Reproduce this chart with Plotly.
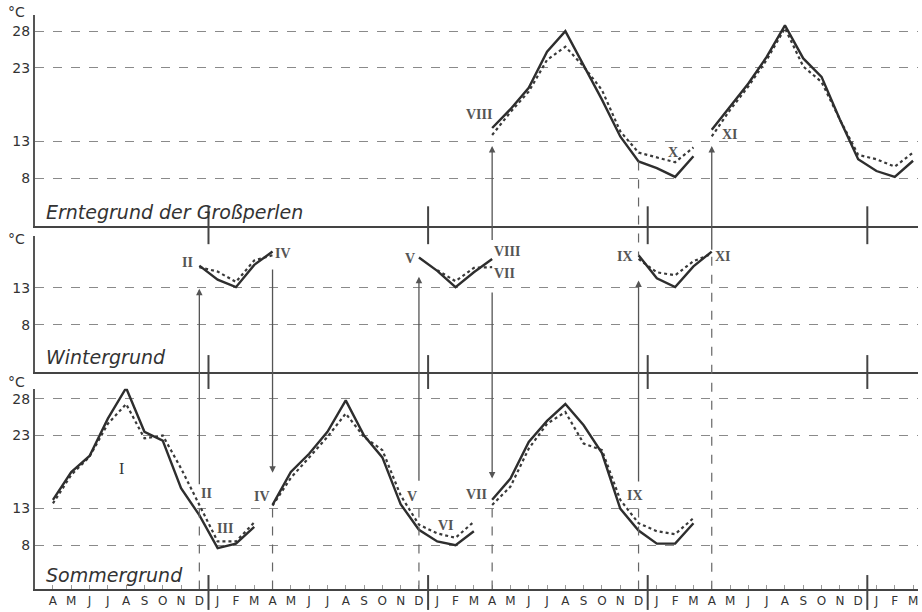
import plotly.graph_objects as go

# ---------------- data ----------------
month_labels = ["A", "M", "J", "J", "A", "S", "O", "N", "D",
                "J", "F", "M", "A", "M", "J", "J", "A", "S", "O", "N", "D",
                "J", "F", "M", "A", "M", "J", "J", "A", "S", "O", "N", "D",
                "J", "F", "M", "A", "M", "J", "J", "A", "S", "O", "N", "D",
                "J", "F", "M"]

# Sommergrund (bottom panel), 12 months each, start month index
som1_start = 0
som1_solid = [14.2, 18.0, 20.2, 25.3, 29.5, 23.5, 22.3, 15.8, 12.1, 7.6, 8.2, 10.5]
som1_dot = [13.7, 17.6, 20.1, 24.6, 27.3, 22.6, 23.0, 18.5, 13.5, 8.5, 8.5, 11.1]
som2_start = 12
som2_solid = [13.5, 18.0, 20.5, 23.5, 27.8, 23.0, 20.0, 13.6, 10.1, 8.5, 8.0, 9.9]
som2_dot = [13.4, 17.2, 20.0, 22.8, 26.0, 22.8, 21.0, 14.8, 10.8, 9.6, 9.0, 11.2]
som3_start = 24
som3_solid = [14.2, 17.1, 22.1, 25.0, 27.3, 24.4, 20.6, 13.0, 10.0, 8.2, 8.2, 11.0]
som3_dot = [13.5, 16.0, 21.2, 24.6, 26.2, 21.9, 21.0, 14.2, 11.0, 9.9, 9.5, 11.7]

# Wintergrund (middle panel), 5 months each
win1_start = 8
win1_solid = [16.0, 14.1, 13.1, 16.1, 17.9]
win1_dot = [15.8, 15.2, 13.8, 16.7, 17.4]
win2_start = 20
win2_solid = [17.1, 15.3, 13.1, 15.1, 16.9]
win2_dot = [None, 15.4, 13.9, 15.7, 15.8]
win3_start = 32
win3_solid = [17.4, 14.3, 13.1, 15.9, 17.9]
win3_dot = [16.9, 15.1, 14.7, 16.6, 17.6]

# Erntegrund der Großperlen (top panel), 12 months each
ern1_start = 24
ern1_solid = [14.85, 17.4, 20.3, 25.2, 28.0, 23.4, 18.7, 13.7, 10.3, 9.4, 8.2, 11.0]
ern1_dot = [13.9, 17.0, 19.8, 24.1, 25.9, 23.2, 20.0, 14.4, 11.5, 10.8, 10.2, 12.2]
ern2_start = 36
ern2_solid = [14.6, 17.8, 20.9, 24.5, 28.8, 24.3, 21.8, 16.0, 10.6, 9.0, 8.2, 10.4]
ern2_dot = [13.7, 17.3, 20.5, 24.1, 28.4, 23.2, 21.1, 16.0, 11.2, 10.6, 9.6, 11.5]

ytick_top = [8, 13, 23, 28]
ytick_mid = [8, 13]
ytick_bot = [8, 13, 23, 28]

# ---------------- layout geometry ----------------
W, H = 922, 612
ML, MR, MT, MB = 35, 4, 15, 21
PH = H - MT - MB
dom = {"y": [0.632, 1.0], "y2": [0.378, 0.615], "y3": [0.0, 0.349]}
rng = {"y": [1.5, 30.2], "y2": [1.65, 20.0], "y3": [2.0, 29.4]}
xr = [-0.98, 47.27]
XA = {"y": "x3", "y2": "x2", "y3": "x"}


def paper_y(v, ax):
    d0, d1 = dom[ax]
    r0, r1 = rng[ax]
    return d0 + (v - r0) / (r1 - r0) * (d1 - d0)


def pix_y(v, ax):
    return MT + (1 - paper_y(v, ax)) * PH


SOLID = dict(color="#2e2e2e", width=2.4)
DOT = dict(color="#3a3a3a", width=2.2, dash="dot")

fig = go.Figure()


def add(start, vals, ax, style):
    xs = [start + i for i in range(len(vals))]
    fig.add_trace(go.Scatter(x=xs, y=vals, mode="lines", line=style,
                             xaxis=XA[ax], yaxis=ax, showlegend=False,
                             hoverinfo="skip", connectgaps=False))


for s, a, b in [(som1_start, som1_solid, som1_dot), (som2_start, som2_solid, som2_dot),
                (som3_start, som3_solid, som3_dot)]:
    add(s, b, "y3", DOT)
    add(s, a, "y3", SOLID)
for s, a, b in [(win1_start, win1_solid, win1_dot), (win2_start, win2_solid, win2_dot),
                (win3_start, win3_solid, win3_dot)]:
    add(s, b, "y2", DOT)
    add(s, a, "y2", SOLID)
for s, a, b in [(ern1_start, ern1_solid, ern1_dot), (ern2_start, ern2_solid, ern2_dot)]:
    add(s, b, "y", DOT)
    add(s, a, "y", SOLID)

shapes = []
GRAY = "#666"
# dashed verticals in Sommergrund from 13 °C down to axis
for m in [8, 12, 20, 24, 32]:
    shapes.append(dict(type="line", xref="x", yref="y3", x0=m, x1=m, y0=13, y1=rng["y3"][0],
                       line=dict(color=GRAY, width=1.2, dash="dash")))
# long dashed vertical at XI
shapes.append(dict(type="line", xref="x", yref="paper", x0=36, x1=36,
                   y0=paper_y(17.2, "y2"), y1=0, line=dict(color=GRAY, width=1.2, dash="dash")))
# dashed from Erntegrund December to Wintergrund IX
shapes.append(dict(type="line", xref="x", yref="paper", x0=32, x1=32,
                   y0=paper_y(ern1_solid[8], "y"), y1=paper_y(win3_solid[0], "y2"),
                   line=dict(color=GRAY, width=1.2, dash="dash")))
# year separator ticks
for m in [8.5, 20.5, 32.5, 44.5]:
    for ax, up, dn in [("y", 20, 18), ("y2", 17, 17), ("y3", 14, 21)]:
        base = dom[ax][0]
        shapes.append(dict(type="line", xref="x", yref="paper", x0=m, x1=m,
                           y0=base + up / PH, y1=base - dn / PH,
                           line=dict(color="#444", width=2)))

annotations = []
# arrows: (month, head axis, head value, tail axis, tail value)
arrows = [(8, "y2", 12.9, "y3", 16.2), (12, "y3", 17.9, "y2", 15.6),
          (20, "y2", 14.5, "y3", 16.7), (24, "y3", 17.1, "y2", 12.5),
          (24, "y", 12.4, "y2", 19.3), (32, "y2", 14.0, "y3", 16.6),
          (36, "y", 12.4, "y2", 18.0)]
for m, ha, hv, ta, tv in arrows:
    annotations.append(dict(x=m, y=hv, xref=XA[ha], yref=ha, text="", showarrow=True,
                            ax=0, ay=pix_y(tv, ta) - pix_y(hv, ha), axref="pixel", ayref="pixel",
                            arrowhead=2, arrowsize=1.0, arrowwidth=1.3, arrowcolor="#555",
                            standoff=0, startstandoff=0))

# roman numeral labels (month position, value, axis, text)
roman = [(3.77, 18.5, "y3", "I"), (8.4, 15.0, "y3", "II"), (9.4, 10.3, "y3", "III"),
         (11.4, 14.7, "y3", "IV"), (19.6, 14.7, "y3", "V"), (21.5, 10.65, "y3", "VI"),
         (23.15, 14.9, "y3", "VII"), (31.8, 14.8, "y3", "IX"),
         (7.38, 16.4, "y2", "II"), (12.57, 17.7, "y2", "IV"), (19.5, 16.9, "y2", "V"),
         (24.8, 17.9, "y2", "VIII"), (24.7, 14.9, "y2", "VII"), (31.25, 17.3, "y2", "IX"),
         (36.6, 17.3, "y2", "XI"),
         (23.3, 16.65, "y", "VIII"), (33.9, 11.5, "y", "X"), (37.0, 13.9, "y", "XI")]
for m, v, ax, t in roman:
    bold = t != "I"
    annotations.append(dict(x=m, y=v, xref=XA[ax], yref=ax, showarrow=False,
                            text=("<b>%s</b>" % t) if bold else t,
                            font=dict(family="Liberation Serif", size=14 if bold else 16,
                                      color="#555" if bold else "#333")))

# panel titles
for ax, v, t in [("y", 3.4, "Erntegrund der Großperlen"), ("y2", 3.7, "Wintergrund"),
                 ("y3", 3.9, "Sommergrund")]:
    annotations.append(dict(x=-0.5, y=v, xref=XA[ax], yref=ax, xanchor="left", showarrow=False,
                            text="<i>%s</i>" % t,
                            font=dict(family="DejaVu Sans", size=19, color="#333")))
# °C unit labels
for ax, ys in [("y", 3), ("y2", -3), ("y3", 7)]:
    annotations.append(dict(x=0, y=dom[ax][1], xref="paper", yref="paper",
                            xanchor="center", yanchor="middle", xshift=-19, yshift=ys,
                            showarrow=False,
                            text="°C", font=dict(family="DejaVu Sans", size=14, color="#333")))

xcommon = dict(range=xr, showgrid=False, zeroline=False, showline=True,
               linecolor="#444", linewidth=2, fixedrange=True)
ycommon = dict(showgrid=True, gridcolor="#8a8a8a", griddash="dash", gridwidth=1.2,
               zeroline=False, showline=True, linecolor="#555", linewidth=2, ticks="",
               tickfont=dict(family="DejaVu Sans", size=14, color="#333"))

fig.update_layout(
    width=W, height=H, margin=dict(l=ML, r=MR, t=MT, b=MB),
    paper_bgcolor="white", plot_bgcolor="white", showlegend=False,
    xaxis=dict(xcommon, anchor="y3", domain=[0, 1], tickmode="array",
               tickvals=list(range(len(month_labels))), ticktext=month_labels,
               ticks="inside", ticklen=4, tickcolor="#999", tickwidth=1,
               tickfont=dict(family="DejaVu Sans", size=12, color="#333")),
    xaxis2=dict(xcommon, anchor="y2", domain=[0, 1], showticklabels=False, ticks=""),
    xaxis3=dict(xcommon, anchor="y", domain=[0, 1], showticklabels=False, ticks=""),
    yaxis=dict(ycommon, domain=dom["y"], range=rng["y"], anchor="x3",
               tickvals=ytick_top, ticktext=[str(v) for v in ytick_top]),
    yaxis2=dict(ycommon, domain=dom["y2"], range=rng["y2"], anchor="x2",
                tickvals=ytick_mid, ticktext=[str(v) for v in ytick_mid]),
    yaxis3=dict(ycommon, domain=dom["y3"], range=rng["y3"], anchor="x",
                tickvals=ytick_bot, ticktext=[str(v) for v in ytick_bot]),
    shapes=shapes, annotations=annotations,
)

fig.write_html("out.html", config={"displayModeBar": False},
               post_script="document.body.style.margin='0';document.body.style.overflow='hidden';")
